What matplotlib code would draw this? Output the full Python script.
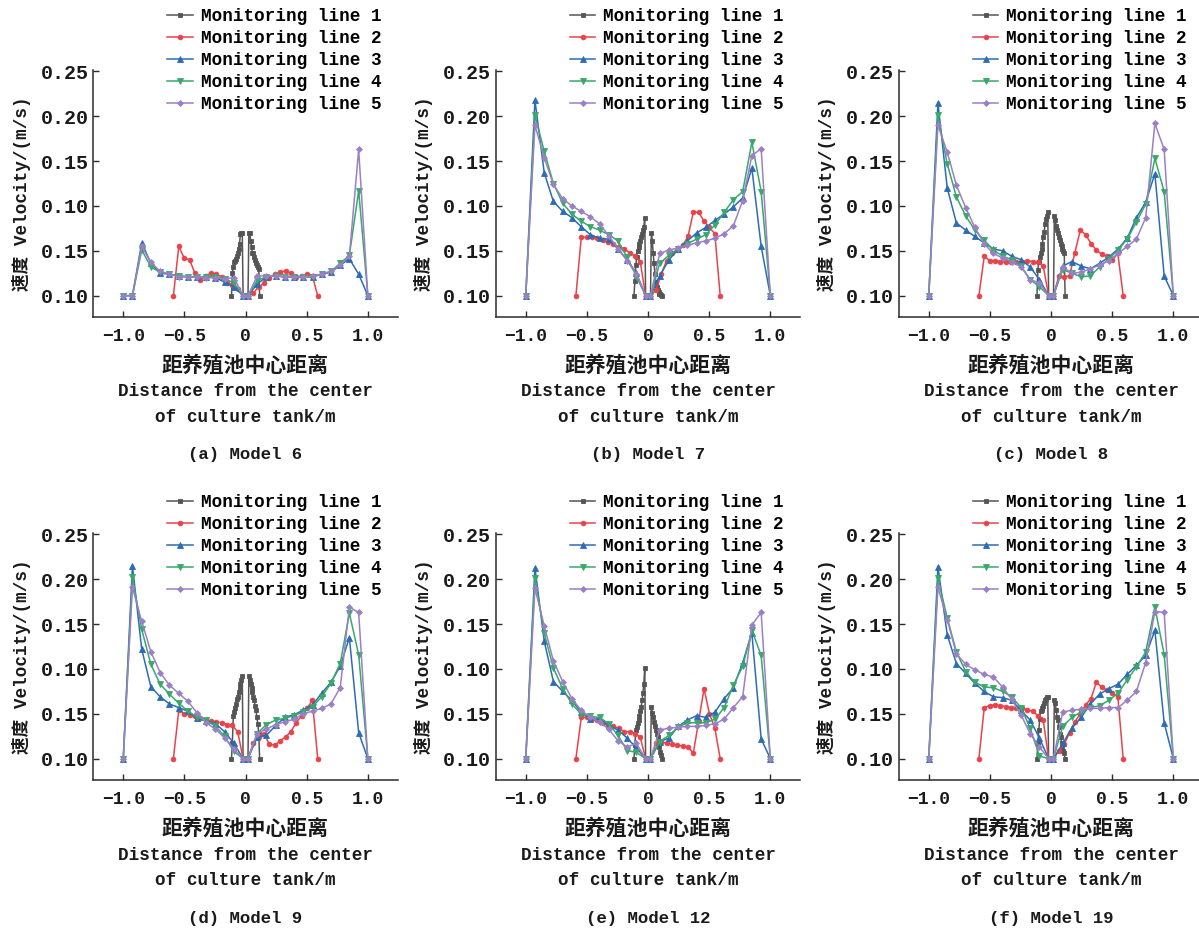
import matplotlib
matplotlib.use('Agg')
import matplotlib.pyplot as plt

LATIN = 'Liberation Mono'
CJK = 'Noto Sans CJK SC'
plt.rcParams['font.family'] = [LATIN, CJK]
plt.rcParams['axes.unicode_minus'] = True

# Sampling positions along each monitoring line (m from tank centre)
x_wall = [-1.000, -0.925, -0.849, -0.774, -0.698, -0.623, -0.548, -0.472, -0.397, -0.322,
          -0.246, -0.171, -0.095, -0.020, 0.020, 0.095, 0.171, 0.246, 0.322, 0.397,
          0.472, 0.548, 0.623, 0.698, 0.774, 0.849, 0.925, 1.000]
x_mid = [-0.590, -0.546, -0.502, -0.458, -0.414, -0.370, -0.327, -0.283, -0.239, -0.195,
         -0.151, -0.108, -0.064, -0.020, 0.020, 0.064, 0.108, 0.151, 0.195, 0.239,
         0.283, 0.327, 0.370, 0.414, 0.458, 0.502, 0.546, 0.590]
x_core = [-0.115, -0.108, -0.100, -0.093, -0.086, -0.078, -0.071, -0.064, -0.056, -0.049,
          -0.042, -0.035, -0.027, -0.020, 0.020, 0.027, 0.035, 0.042, 0.049, 0.056,
          0.064, 0.071, 0.078, 0.086, 0.093, 0.100, 0.108, 0.115]

# Model 6
m6_line1 = [0, 0.025, 0.032, 0.037, 0.039, 0.041, 0.044, 0.048, 0.052, 0.058, 0.069, 0.070, 0.070, 0,
            0, 0.070, 0.070, 0.061, 0.054, 0.048, 0.047, 0.043, 0.040, 0.036, 0.034, 0.032, 0.030, 0]
m6_line2 = [0, 0.055, 0.042, 0.040, 0.025, 0.018, 0.022, 0.025, 0.024, 0.021, 0.014, 0.012, 0.007, 0,
            0, 0.003, 0.010, 0.014, 0.020, 0.024, 0.026, 0.028, 0.025, 0.021, 0.022, 0.024, 0.022, 0]
m6_line3 = [0, 0, 0.059, 0.036, 0.025, 0.024, 0.022, 0.021, 0.021, 0.021, 0.020, 0.015, 0.010, 0,
            0, 0.013, 0.021, 0.022, 0.021, 0.021, 0.021, 0.021, 0.024, 0.026, 0.034, 0.041, 0.024, 0]
m6_line4 = [0, 0, 0.051, 0.032, 0.026, 0.024, 0.022, 0.021, 0.021, 0.021, 0.021, 0.019, 0.014, 0,
            0, 0.017, 0.021, 0.022, 0.021, 0.021, 0.021, 0.021, 0.024, 0.027, 0.036, 0.045, 0.117, 0]
m6_line5 = [0, 0, 0.055, 0.037, 0.027, 0.024, 0.021, 0.021, 0.021, 0.020, 0.020, 0.019, 0.020, 0,
            0, 0.022, 0.022, 0.022, 0.021, 0.021, 0.021, 0.022, 0.024, 0.027, 0.034, 0.044, 0.163, 0]

# Model 7
m7_line1 = [0, 0.016, 0.034, 0.043, 0.050, 0.054, 0.058, 0.061, 0.065, 0.069, 0.073, 0.076, 0.087, 0,
            0, 0.070, 0.061, 0.047, 0.036, 0.024, 0.015, 0.010, 0.006, 0.004, 0.002, 0.002, 0.001, 0]
m7_line2 = [0, 0.065, 0.065, 0.065, 0.064, 0.062, 0.060, 0.058, 0.054, 0.052, 0.048, 0.044, 0.038, 0,
            0, 0.006, 0.024, 0.039, 0.047, 0.051, 0.056, 0.066, 0.093, 0.093, 0.083, 0.076, 0.069, 0]
m7_line3 = [0, 0.218, 0.137, 0.105, 0.094, 0.087, 0.077, 0.068, 0.064, 0.063, 0.052, 0.040, 0.025, 0,
            0, 0.022, 0.040, 0.052, 0.061, 0.070, 0.076, 0.084, 0.091, 0.099, 0.109, 0.142, 0.055, 0]
m7_line4 = [0, 0.201, 0.161, 0.125, 0.103, 0.091, 0.083, 0.077, 0.073, 0.068, 0.061, 0.043, 0.021, 0,
            0, 0.036, 0.045, 0.052, 0.058, 0.063, 0.068, 0.079, 0.093, 0.107, 0.116, 0.171, 0.116, 0]
m7_line5 = [0, 0.190, 0.154, 0.124, 0.108, 0.100, 0.094, 0.088, 0.080, 0.067, 0.052, 0.039, 0.024, 0,
            0, 0.047, 0.051, 0.053, 0.056, 0.059, 0.061, 0.064, 0.069, 0.078, 0.106, 0.156, 0.164, 0]

# Model 8
m8_line1 = [0, 0.029, 0.038, 0.043, 0.047, 0.052, 0.058, 0.065, 0.071, 0.080, 0.086, 0.089, 0.093, 0,
            0, 0.089, 0.084, 0.078, 0.073, 0.070, 0.065, 0.062, 0.058, 0.055, 0.052, 0.050, 0.047, 0]
m8_line2 = [0, 0.044, 0.039, 0.039, 0.038, 0.037, 0.037, 0.037, 0.038, 0.039, 0.038, 0.037, 0.033, 0,
            0, 0.022, 0.021, 0.022, 0.048, 0.073, 0.068, 0.058, 0.051, 0.046, 0.044, 0.040, 0.047, 0]
m8_line3 = [0, 0.215, 0.120, 0.081, 0.073, 0.066, 0.059, 0.052, 0.050, 0.044, 0.040, 0.032, 0.018, 0,
            0, 0.033, 0.038, 0.033, 0.030, 0.036, 0.043, 0.052, 0.064, 0.087, 0.104, 0.136, 0.022, 0]
m8_line4 = [0, 0.201, 0.147, 0.110, 0.089, 0.073, 0.062, 0.051, 0.044, 0.040, 0.033, 0.018, 0.010, 0,
            0, 0.029, 0.025, 0.021, 0.022, 0.032, 0.041, 0.051, 0.063, 0.082, 0.102, 0.153, 0.116, 0]
m8_line5 = [0, 0.190, 0.160, 0.123, 0.098, 0.076, 0.058, 0.047, 0.042, 0.038, 0.032, 0.018, 0.014, 0,
            0, 0.032, 0.025, 0.026, 0.030, 0.034, 0.039, 0.047, 0.055, 0.063, 0.087, 0.192, 0.163, 0]

# Model 9
m9_line1 = [0, 0.017, 0.048, 0.052, 0.057, 0.061, 0.066, 0.069, 0.074, 0.079, 0.083, 0.088, 0.092, 0,
            0, 0.092, 0.088, 0.083, 0.079, 0.074, 0.069, 0.065, 0.059, 0.054, 0.046, 0.039, 0.028, 0]
m9_line2 = [0, 0.054, 0.050, 0.049, 0.047, 0.045, 0.043, 0.042, 0.041, 0.040, 0.038, 0.037, 0.030, 0,
            0, 0.017, 0.024, 0.028, 0.016, 0.015, 0.020, 0.024, 0.030, 0.040, 0.048, 0.056, 0.065, 0]
m9_line3 = [0, 0.215, 0.122, 0.080, 0.069, 0.061, 0.057, 0.053, 0.045, 0.042, 0.039, 0.030, 0.017, 0,
            0, 0.024, 0.026, 0.037, 0.046, 0.049, 0.054, 0.060, 0.073, 0.085, 0.103, 0.135, 0.029, 0]
m9_line4 = [0, 0.202, 0.144, 0.105, 0.083, 0.072, 0.062, 0.053, 0.046, 0.043, 0.036, 0.025, 0.008, 0,
            0, 0.028, 0.038, 0.043, 0.045, 0.048, 0.052, 0.058, 0.069, 0.084, 0.106, 0.162, 0.116, 0]
m9_line5 = [0, 0.191, 0.153, 0.119, 0.096, 0.082, 0.073, 0.064, 0.051, 0.040, 0.033, 0.023, 0.011, 0,
            0, 0.028, 0.033, 0.038, 0.041, 0.044, 0.050, 0.053, 0.056, 0.061, 0.079, 0.169, 0.163, 0]

# Model 12
m12_line1 = [0, 0.015, 0.032, 0.035, 0.040, 0.043, 0.048, 0.053, 0.058, 0.065, 0.073, 0.083, 0.101, 0,
             0, 0.058, 0.051, 0.046, 0.041, 0.036, 0.032, 0.028, 0.024, 0.019, 0.013, 0.007, 0.004, 0]
m12_line2 = [0, 0.046, 0.046, 0.044, 0.043, 0.040, 0.038, 0.036, 0.034, 0.030, 0.030, 0.028, 0.024, 0,
             0, 0.017, 0.019, 0.017, 0.016, 0.015, 0.014, 0.013, 0.006, 0.042, 0.078, 0.050, 0.034, 0]
m12_line3 = [0, 0.213, 0.131, 0.086, 0.075, 0.065, 0.052, 0.044, 0.044, 0.037, 0.032, 0.023, 0.012, 0,
             0, 0.019, 0.023, 0.036, 0.043, 0.048, 0.046, 0.052, 0.067, 0.079, 0.107, 0.140, 0.022, 0]
m12_line4 = [0, 0.201, 0.140, 0.101, 0.078, 0.061, 0.050, 0.047, 0.046, 0.039, 0.026, 0.009, 0.007, 0,
             0, 0.019, 0.026, 0.035, 0.040, 0.040, 0.040, 0.044, 0.057, 0.082, 0.103, 0.143, 0.115, 0]
m12_line5 = [0, 0.190, 0.148, 0.109, 0.086, 0.067, 0.054, 0.046, 0.041, 0.033, 0.020, 0.013, 0.017, 0,
             0, 0.032, 0.034, 0.035, 0.036, 0.036, 0.037, 0.039, 0.044, 0.057, 0.069, 0.149, 0.163, 0]

# Model 19
m19_line1 = [0, 0.017, 0.032, 0.044, 0.053, 0.054, 0.057, 0.059, 0.062, 0.065, 0.067, 0.069, 0.069, 0,
             0, 0.065, 0.062, 0.054, 0.046, 0.043, 0.035, 0.028, 0.024, 0.017, 0.012, 0.009, 0.006, 0]
m19_line2 = [0, 0.057, 0.059, 0.060, 0.059, 0.058, 0.057, 0.057, 0.057, 0.054, 0.053, 0.048, 0.043, 0,
             0, 0.009, 0.016, 0.029, 0.041, 0.050, 0.060, 0.067, 0.085, 0.080, 0.076, 0.073, 0.069, 0]
m19_line3 = [0, 0.214, 0.138, 0.106, 0.095, 0.084, 0.075, 0.069, 0.068, 0.065, 0.054, 0.043, 0.023, 0,
             0, 0.017, 0.034, 0.046, 0.061, 0.072, 0.078, 0.083, 0.094, 0.104, 0.115, 0.143, 0.040, 0]
m19_line4 = [0, 0.201, 0.157, 0.119, 0.097, 0.085, 0.080, 0.079, 0.075, 0.069, 0.057, 0.034, 0.003, 0,
             0, 0.036, 0.046, 0.052, 0.057, 0.059, 0.065, 0.073, 0.088, 0.102, 0.119, 0.169, 0.116, 0]
m19_line5 = [0, 0.191, 0.155, 0.117, 0.105, 0.099, 0.094, 0.091, 0.080, 0.066, 0.049, 0.028, 0.013, 0,
             0, 0.052, 0.054, 0.055, 0.056, 0.056, 0.057, 0.057, 0.065, 0.075, 0.107, 0.164, 0.163, 0]

panel_titles = ['(a) Model 6', '(b) Model 7', '(c) Model 8',
                '(d) Model 9', '(e) Model 12', '(f) Model 19']
series_labels = ['Monitoring line 1', 'Monitoring line 2', 'Monitoring line 3',
                 'Monitoring line 4', 'Monitoring line 5']
x_ticks = [-1.0, -0.5, 0.0, 0.5, 1.0]
x_tick_labels = ['\u22121.0', '\u22120.5', '0', '0.5', '1.0']
y_ticks = [0.0, 0.05, 0.10, 0.15, 0.20, 0.25]
y_tick_labels = ['0.10', '0.15', '0.10', '0.15', '0.20', '0.25']
y_label = '速度 Velocity/(m/s)'
x_label_cn = '距养殖池中心距离'
x_label_en1 = 'Distance from the center'
x_label_en2 = 'of culture tank/m'

models = [
    [m6_line1, m6_line2, m6_line3, m6_line4, m6_line5],
    [m7_line1, m7_line2, m7_line3, m7_line4, m7_line5],
    [m8_line1, m8_line2, m8_line3, m8_line4, m8_line5],
    [m9_line1, m9_line2, m9_line3, m9_line4, m9_line5],
    [m12_line1, m12_line2, m12_line3, m12_line4, m12_line5],
    [m19_line1, m19_line2, m19_line3, m19_line4, m19_line5],
]
x_sets = [x_core, x_mid, x_wall, x_wall, x_wall]

colors = ['#555555', '#e8434a', '#2d6cb5', '#38a86b', '#9b80c5']
markers = ['s', 'o', '^', 'v', 'D']
msizes = [3.2, 3.4, 4.0, 4.0, 3.0]

FS = 12.7
DPI = 100
FIG_W, FIG_H = 1199, 930

fig = plt.figure(figsize=(FIG_W / DPI, FIG_H / DPI), dpi=DPI)

lefts_px = [93.3, 495.8, 898.8]
bottoms_px = [317.0, 780.0]
legend_top_px = [8.0, 494.0]
ax_w_px, ax_h_px = 304.5, 246.5


def pts(px):
    return px * 72.0 / DPI


for idx, lines in enumerate(models):
    r, c = divmod(idx, 3)
    left = lefts_px[c] / FIG_W
    bottom = 1 - bottoms_px[r] / FIG_H
    ax = fig.add_axes([left, bottom, ax_w_px / FIG_W, ax_h_px / FIG_H])

    for k in range(5):
        ax.plot(x_sets[k], lines[k], color=colors[k], marker=markers[k],
                markersize=msizes[k], linewidth=1.1, label=series_labels[k],
                markeredgewidth=0.6)

    ax.set_xlim(-1.245, 1.245)
    ax.set_ylim(-0.0238, 0.251)
    for side in ('top', 'right'):
        ax.spines[side].set_visible(False)
    for side in ('left', 'bottom'):
        ax.spines[side].set_linewidth(1.1)
        ax.spines[side].set_color('#2b2b2b')

    ax.set_xticks(x_ticks)
    ax.set_xticklabels(x_tick_labels, fontsize=13, fontweight='bold')
    ax.set_yticks(y_ticks)
    ax.set_yticklabels(y_tick_labels, fontsize=14.4, fontweight='bold')
    ax.tick_params(axis='x', direction='in', length=4, width=1, pad=8, colors='#2b2b2b')
    ax.tick_params(axis='y', direction='in', length=4, width=1, pad=3.5, colors='#2b2b2b')
    for lab in ax.get_xticklabels() + ax.get_yticklabels():
        lab.set_color('#1a1a1a')

    ax.text(-72 / ax_w_px, 0.5, y_label, transform=ax.transAxes, rotation=90,
            ha='center', va='center', fontsize=FS, fontweight='bold', color='#1a1a1a')

    captions = [(x_label_cn, 48, 15.0, [CJK]),
                (x_label_en1, 75, FS, [LATIN, CJK]),
                (x_label_en2, 100, FS, [LATIN, CJK]),
                (panel_titles[idx], 138, 12.5, [LATIN, CJK])]
    for txt, off, fs, fam in captions:
        ax.annotate(txt, xy=(0.5, 0), xycoords='axes fraction',
                    xytext=(0, -pts(off)), textcoords='offset points',
                    ha='center', va='center', fontsize=fs, fontweight='bold',
                    family=fam, color='#1a1a1a')

    leg_x = (lefts_px[c] + 74) / FIG_W
    leg_y = 1 - legend_top_px[r] / FIG_H
    ax.legend(loc='upper left', bbox_to_anchor=(leg_x, leg_y),
              bbox_transform=fig.transFigure, frameon=False, borderpad=0,
              borderaxespad=0, handlelength=1.45, handletextpad=0.45,
              labelspacing=0.29, prop={'family': [LATIN, CJK], 'size': FS,
                                       'weight': 'bold'})

fig.savefig('out.png', dpi=DPI)
